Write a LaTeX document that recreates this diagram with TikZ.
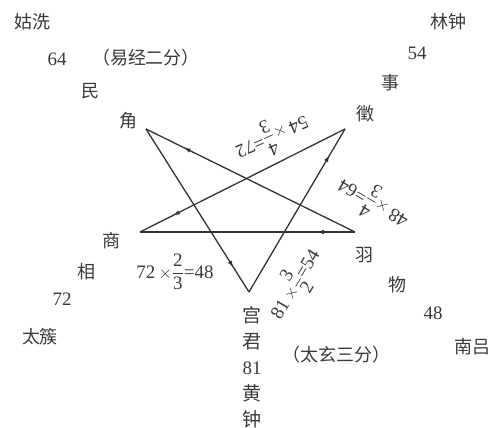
\documentclass[tikz,border=0pt]{standalone}
\usepackage{amsmath}
\usepackage{fontspec}
\setmainfont{Liberation Serif}
\newfontfamily\cjk{Noto Sans CJK SC}
\usepackage{tikz}
\usetikzlibrary{arrows.meta,decorations.markings}
\definecolor{starInk}{HTML}{333333}
\definecolor{textInk}{HTML}{3A3A3A}
% a times b/c = d, digits in the text face
\newcommand\lvratio[4]{#1\,$\times\dfrac{\text{#2}}{\text{#3}}$=#4}

\begin{document}
\begin{tikzpicture}[
    x=1pt, y=-1pt,
    every node/.style={inner sep=0pt, text=textInk},
    hanzi/.style={font=\fontsize{18}{22}\selectfont\cjk},
    num/.style={font=\fontsize{19}{22}\selectfont},
    eqn/.style={font=\fontsize{19}{22}\selectfont},
    flow/.style={draw=starInk, line width=1.3pt, postaction={decorate},
        decoration={markings, mark=at position #1 with {\arrow[starInk]{Latex[length=7pt,width=4.5pt]}}}},
    flow/.default=0.85
]
\useasboundingbox (0,0) rectangle (496,428);

% star vertices
\coordinate (jue) at (146,129);
\coordinate (zhi) at (345,129);
\coordinate (shang) at (140,232);
\coordinate (yu) at (355,232);
\coordinate (gong) at (249,292);

\draw[flow=0.85] (jue) -- (gong);
\draw[flow=0.84] (gong) -- (zhi);
\draw[flow=0.84] (zhi) -- (shang);
\draw[flow=0.88] (shang) -- (yu);
\draw[flow=0.82] (yu) -- (jue);

% upper left
\node[hanzi] (guxian) at (32,22) {姑洗};
\node[num] (n64) at (57,59) {64};
\node[hanzi] (yijing) at (146,58) {（易经二分）};
\node[hanzi] (min) at (90,91) {民};
\node[hanzi] (jueL) at (128,121) {角};

% upper right
\node[hanzi] (linzhong) at (448,22) {林钟};
\node[num] (n54) at (417,53) {54};
\node[hanzi] (shi) at (390,83) {事};
\node[hanzi] (zhiL) at (365,114) {徵};

% left
\node[hanzi] (shangL) at (111,241) {商};
\node[hanzi] (xiang) at (86,272) {相};
\node[num] (n72) at (62,299) {72};
\node[hanzi] (taicu) at (40,337) {太簇};

% right
\node[hanzi] (yuL) at (364,255) {羽};
\node[hanzi] (wu) at (397,285) {物};
\node[num] (n48) at (433,313) {48};
\node[hanzi] (nanlv) at (472,347) {南吕};

% bottom
\node[num, align=center, font=\fontsize{19}{26}\selectfont, anchor=north] (gongcol) at (252,306)
    {{\cjk 宫}\\{\cjk 君}\\81\\{\cjk 黄}\\{\cjk 钟}};
\node[hanzi] (taixuan) at (336,355) {（太玄三分）};

% ratios
\node[eqn] (eqA) at (175,272) {\lvratio{72}{2}{3}{48}};
\node[eqn, rotate=204] (eqB) at (272,137) {\lvratio{54}{4}{3}{72}};
\node[eqn, rotate=150] (eqC) at (373,203) {\lvratio{48}{4}{3}{64}};
\node[eqn, rotate=59] (eqD) at (295,284) {\lvratio{81}{3}{2}{54}};

\end{tikzpicture}
\end{document}
